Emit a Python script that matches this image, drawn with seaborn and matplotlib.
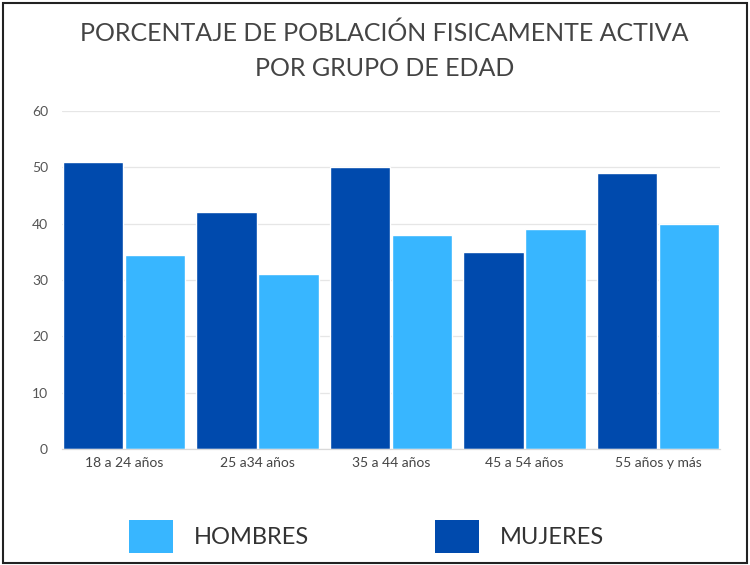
import matplotlib
matplotlib.use("Agg")
import matplotlib.pyplot as plt
from matplotlib.patches import Rectangle
import pandas as pd
import seaborn as sns

# data
grupos = ["18 a 24 años", "25 a34 años", "35 a 44 años", "45 a 54 años", "55 años y más"]
mujeres = [51, 42, 50, 35, 49]
hombres = [34.5, 31, 38, 39, 40]
yticks = [0, 10, 20, 30, 40, 50, 60]

colores = {"MUJERES": "#004AAD", "HOMBRES": "#38B6FF"}

df = pd.DataFrame({
    "grupo": grupos * 2,
    "sexo": ["MUJERES"] * len(grupos) + ["HOMBRES"] * len(grupos),
    "valor": mujeres + hombres,
})

sns.set_theme(style="white")
plt.rcParams["font.family"] = ["Lato", "DejaVu Sans"]

W, H = 750, 565
fig = plt.figure(figsize=(7.5, 5.65), dpi=100)
ax = fig.add_axes([62 / W, 1 - 449 / H, 658 / W, 338 / H])

sns.barplot(data=df, x="grupo", y="valor", hue="sexo", order=grupos,
            hue_order=["MUJERES", "HOMBRES"], palette=colores,
            width=0.93, gap=0.025, legend=False, ax=ax, saturation=1)

ax.set_xlim(-0.465, len(grupos) - 0.535)
ax.set_ylim(0, 60)
ax.set_yticks(yticks)
ax.set_xlabel("")
ax.set_ylabel("")
ax.grid(axis="y", color="#e6e6e6", linewidth=0.9)
ax.set_axisbelow(True)
for s in ["top", "right", "left"]:
    ax.spines[s].set_visible(False)
ax.spines["bottom"].set_color("#d9d9d9")
ax.spines["bottom"].set_linewidth(0.9)
ax.tick_params(axis="both", length=0)
ax.tick_params(axis="y", pad=10, labelsize=10, labelcolor="#555555")
ax.tick_params(axis="x", pad=6, labelsize=10, labelcolor="#444444")

# title
fig.text(0.513, 1 - 33 / H, "PORCENTAJE DE POBLACIÓN FISICAMENTE ACTIVA",
         ha="center", va="center", fontsize=18, color="#444444")
fig.text(0.513, 1 - 69 / H, "POR GRUPO DE EDAD",
         ha="center", va="center", fontsize=18, color="#444444")

# legend drawn by hand to match the reference layout
leyenda = [("HOMBRES", 129, 194), ("MUJERES", 435, 500)]
for nombre, xs, xt in leyenda:
    fig.patches.append(Rectangle((xs / W, 1 - 553 / H), 44 / W, 33 / H,
                                 transform=fig.transFigure, facecolor=colores[nombre],
                                 edgecolor="none"))
    fig.text(xt / W, 1 - 537 / H, nombre, ha="left", va="center",
             fontsize=17, color="#333333")

fig.patches.append(Rectangle((0.004, 0.004), 0.992, 0.991, transform=fig.transFigure,
                             fill=False, edgecolor="#222222", linewidth=1.5))

fig.savefig("out.png", dpi=100)
